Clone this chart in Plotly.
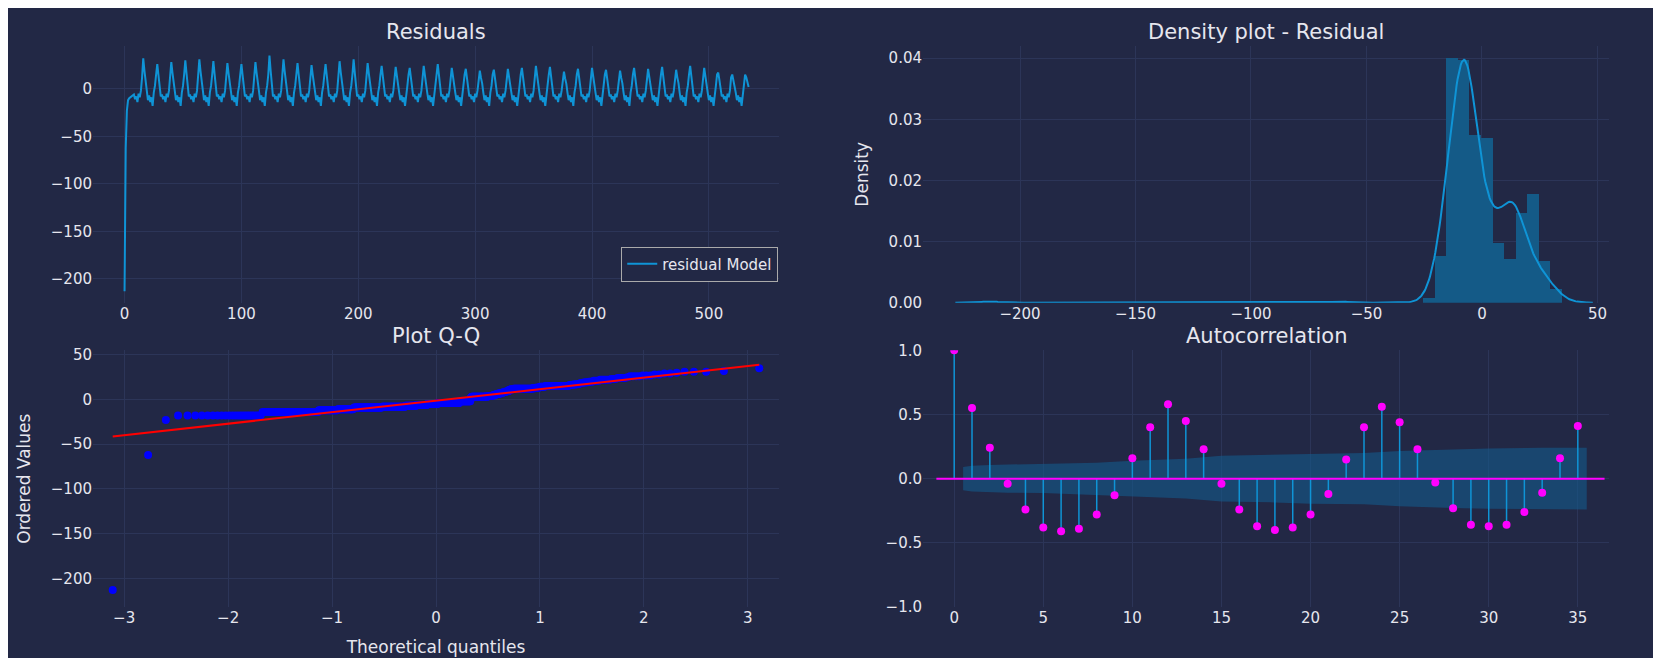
import numpy as np
import plotly.graph_objects as go
from plotly.subplots import make_subplots
from statistics import NormalDist

# ---- data ----
resid_start = [-213, -62, -23, -12, -10, -9, -9, -8]
cycle_peaks = [32, 26, 28, 30, 31, 29, 27, 26, 28, 35, 31, 27, 25, 26, 29, 31, 27, 24, 23, 22,
               24, 26, 22, 21, 19, 20, 21, 22, 24, 23, 18, 21, 22, 20, 19, 22, 21, 23, 20, 24,
               22, 17, 15, 12]
# values with |s|<=1 are fractions of the cycle peak, others are absolute residuals
shape_even = [-6, -11, -8, -14, -5, -9, -2, 12, 1.0, 0.6, 0.3, -4]
shape_odd = [-12, -7, -14, -9, -18, -4, 3, 15, 1.0, 0.55, 0.15, -8]
acf_lags = list(range(36))
acf_vals = [1.0, 0.55, 0.24, -0.04, -0.24, -0.38, -0.41, -0.39, -0.28, -0.13, 0.16, 0.40,
            0.58, 0.45, 0.23, -0.04, -0.24, -0.37, -0.40, -0.38, -0.28, -0.12, 0.15, 0.40,
            0.56, 0.44, 0.23, -0.03, -0.23, -0.36, -0.37, -0.36, -0.26, -0.11, 0.16, 0.41]
conf_lags = [0.5, 1, 2, 3, 5, 8, 10, 13, 15, 18, 20, 23, 25, 28, 30, 33, 35.5]
conf_vals = [0.09, 0.10, 0.107, 0.11, 0.112, 0.125, 0.14, 0.155, 0.178, 0.185, 0.195, 0.2, 0.215, 0.228, 0.235, 0.24, 0.24]
hist_edges = [-25.4, -20.4, -15.4, -10.4, -5.4, -0.4, 4.6, 9.6, 14.6, 19.6, 24.6, 29.6, 34.6]
hist_dens = [0.0008, 0.0076, 0.0400, 0.0397, 0.0274, 0.0270, 0.0098, 0.0072, 0.0147, 0.0178, 0.0068, 0.0022]

resid = list(resid_start)
for i, p in enumerate(cycle_peaks):
    for s in (shape_even if i % 2 == 0 else shape_odd):
        resid.append(p * s if abs(s) <= 1 else s)
resid = np.array(resid[:535], dtype=float)
n = len(resid)

BG = "#222845"
GRID = "#2c3558"
TXT = "#e6e6ee"
BLUE = "#0f94d6"
M = "−"

fig = make_subplots(rows=2, cols=2, horizontal_spacing=0.095, vertical_spacing=0.085,
                    subplot_titles=("Residuals", "Density plot - Residual", "Plot Q-Q", "Autocorrelation"))

fig.add_trace(go.Scatter(x=np.arange(n), y=resid, mode="lines", line=dict(color=BLUE, width=2),
                         name="residual Model", showlegend=True), 1, 1)

centers = [(a + b) / 2 for a, b in zip(hist_edges[:-1], hist_edges[1:])]
widths = [b - a for a, b in zip(hist_edges[:-1], hist_edges[1:])]
fig.add_trace(go.Bar(x=centers, y=hist_dens, width=widths, marker=dict(color="#145a87", line=dict(width=0)),
                     showlegend=False), 1, 2)
xs = np.linspace(-228, 48, 600)
bw = 1.06 * resid.std() * n ** (-0.2) * 1.0
kde = np.exp(-0.5 * ((xs[:, None] - resid[None, :]) / bw) ** 2).sum(1) / (n * bw * np.sqrt(2 * np.pi))
fig.add_trace(go.Scatter(x=xs, y=kde, mode="lines", line=dict(color=BLUE, width=2), showlegend=False), 1, 2)

srt = np.sort(resid)
nd = NormalDist()
q = np.array([nd.inv_cdf((i + 1 - 0.5) / n) for i in range(n)])
slope, intercept = np.polyfit(q, srt, 1)
fig.add_trace(go.Scatter(x=q, y=srt, mode="markers", marker=dict(color="#0000ff", size=8), showlegend=False), 2, 1)
fig.add_trace(go.Scatter(x=[q[0], q[-1]], y=[slope * q[0] + intercept, slope * q[-1] + intercept],
                         mode="lines", line=dict(color="#ff0000", width=2), showlegend=False), 2, 1)

fig.add_trace(go.Scatter(x=conf_lags + conf_lags[::-1], y=conf_vals + [-v for v in conf_vals[::-1]],
                         fill="toself", fillcolor="rgba(20,90,140,0.6)", line=dict(width=0),
                         mode="lines", showlegend=False), 2, 2)
sx, sy = [], []
for l, v in zip(acf_lags, acf_vals):
    sx += [l, l, None]; sy += [0, v, None]
fig.add_trace(go.Scatter(x=sx, y=sy, mode="lines", line=dict(color=BLUE, width=1.5), showlegend=False), 2, 2)
fig.add_trace(go.Scatter(x=[-1, 36.5], y=[0, 0], mode="lines", line=dict(color="#ff00ff", width=2), showlegend=False), 2, 2)
fig.add_trace(go.Scatter(x=acf_lags, y=acf_vals, mode="markers", marker=dict(color="#ff00ff", size=8), showlegend=False), 2, 2)

def lab(vals):
    return [str(v).replace("-", M) for v in vals]

ax = dict(showgrid=True, gridcolor=GRID, zeroline=False, showline=False, tickfont=dict(size=15, color=TXT), ticks="")
fig.update_xaxes(**ax); fig.update_yaxes(**ax)
fig.update_xaxes(range=[-27, 560], tickvals=[0, 100, 200, 300, 400, 500], row=1, col=1)
t = [-200, -150, -100, -50, 0]
fig.update_yaxes(range=[-225, 45], tickvals=t, ticktext=lab(t), row=1, col=1)
t = [-200, -150, -100, -50, 0, 50]
fig.update_xaxes(range=[-242, 55], tickvals=t, ticktext=lab(t), row=1, col=2)
fig.update_yaxes(range=[0, 0.042], tickvals=[0, 0.01, 0.02, 0.03, 0.04], tickformat=".2f",
                 title=dict(text="Density", font=dict(size=17, color=TXT)), row=1, col=2)
t = [-3, -2, -1, 0, 1, 2, 3]
fig.update_xaxes(range=[-3.3, 3.3], tickvals=t, ticktext=lab(t),
                 title=dict(text="Theoretical quantiles", font=dict(size=17, color=TXT)), row=2, col=1)
t = [-200, -150, -100, -50, 0, 50]
fig.update_yaxes(range=[-232, 55], tickvals=t, ticktext=lab(t),
                 title=dict(text="Ordered Values", font=dict(size=17, color=TXT)), row=2, col=1)
fig.update_xaxes(range=[-1.75, 36.75], tickvals=[0, 5, 10, 15, 20, 25, 30, 35], row=2, col=2)
fig.update_yaxes(range=[-1.0, 1.0], tickvals=[-1, -0.5, 0, 0.5, 1], ticktext=["−1.0", "−0.5", "0.0", "0.5", "1.0"], row=2, col=2)

for a in fig.layout.annotations:
    a.font = dict(size=21, color=TXT)

fig.update_layout(width=1661, height=658, paper_bgcolor=BG, plot_bgcolor=BG,
                  font=dict(family="DejaVu Sans", color=TXT),
                  margin=dict(l=85, r=60, t=38, b=50), bargap=0,
                  legend=dict(x=0.452, y=0.58, xanchor="right", yanchor="bottom", bgcolor=BG,
                              bordercolor="#aaaaaa", borderwidth=1, font=dict(size=15, color=TXT)))
fig.write_html("out.html")
